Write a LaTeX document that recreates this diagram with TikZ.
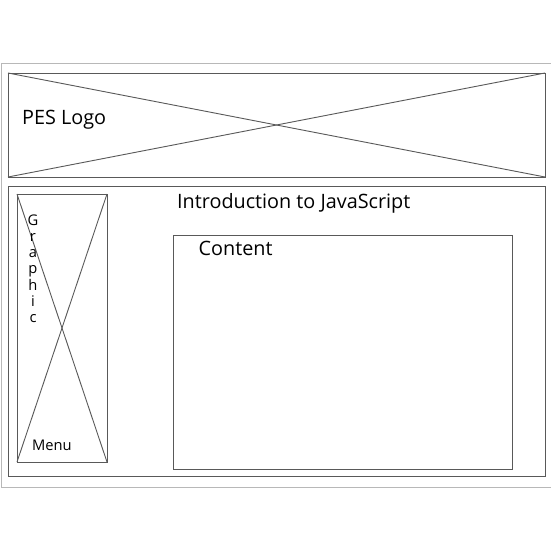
\documentclass[tikz,border=0pt]{standalone}
\usepackage{fontspec}
\setmainfont{Open Sans}
\begin{document}
\begin{tikzpicture}[x=1pt,y=-1pt,
  wire/.style={draw=black!65,line width=0.9pt},
  box/.style={wire,rectangle,inner sep=0pt,outer sep=0pt},
  frame/.style={draw=black!28,line width=1pt},
  big/.style={font=\fontsize{19.8}{19.8}\selectfont,inner sep=0pt,anchor=base west},
  small/.style={font=\fontsize{14.7}{14.7}\selectfont,inner sep=0pt}]
\useasboundingbox[fill=white] (0,0) rectangle (550,550);
\draw[frame] (551,63) -- (1,63) -- (1,487) -- (551,487);
\node[box,minimum width=537pt,minimum height=104pt] (logo) at (276.5,125) {};
\draw[wire] (logo.north west) -- (logo.south east);
\draw[wire] (logo.south west) -- (logo.north east);
\node[box,minimum width=537pt,minimum height=290pt] (main) at (276.5,331) {};
\node[box,minimum width=90pt,minimum height=268pt] (graphic) at (62,328) {};
\draw[wire] (graphic.north west) -- (graphic.south east);
\draw[wire] (graphic.south west) -- (graphic.north east);
\node[box,minimum width=339pt,minimum height=234pt] (content) at (342.5,352) {};
\node[big] (logotxt) at (22,124) {PES Logo};
\node[big] (title) at (177,208) {Introduction to JavaScript};
\node[big] (contenttxt) at (198.5,255) {Content};
\node[small,anchor=base west] (menu) at (32,450) {Menu};
\foreach \l [count=\i from 0] in {G,r,a,p,h,i,c}
  \node[small,anchor=base] (letter\i) at (33,225+16.3*\i) {\l};
\end{tikzpicture}
\end{document}
